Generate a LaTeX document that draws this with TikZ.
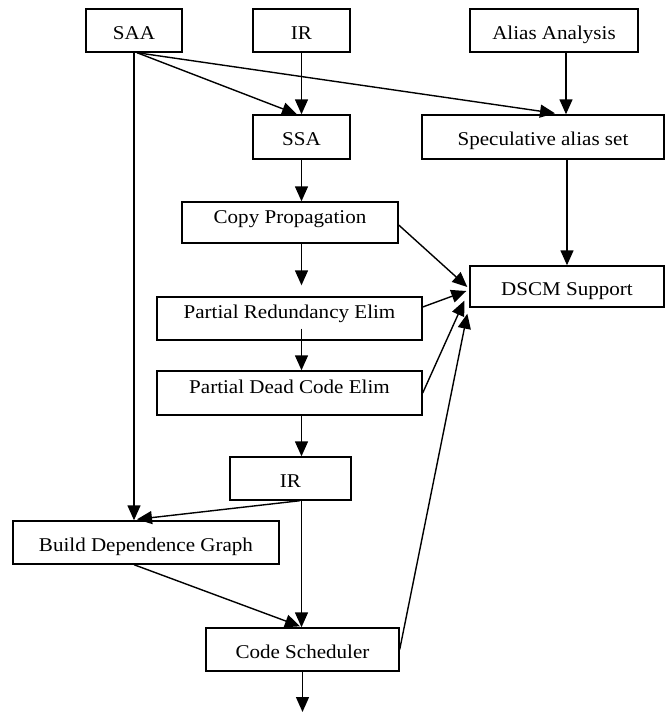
\documentclass[tikz,border=0pt]{standalone}
\usepackage{fontspec}
\setmainfont{Liberation Serif}[FakeStretch=1.08]
\usetikzlibrary{arrows.meta,calc}
\tikzset{
  box/.style={draw, line width=1.4pt, inner sep=0pt, font=\fontsize{19.5}{22}\selectfont,
    text height=17pt, text depth=0pt},
  hi/.style={text height=13pt, text depth=11pt},
  mid/.style={text height=12pt, text depth=12pt},
  conn/.style={line width=1.4pt, -{Triangle[length=15pt,width=13pt]}},
}
\begin{document}
\begin{tikzpicture}[x=1pt,y=-1pt]
\useasboundingbox (0,0) rectangle (671,713);
\node[box, minimum width=96pt, minimum height=43pt] (saa) at (134,30.5) {SAA};
\node[box, minimum width=97pt, minimum height=43pt] (ir1) at (301.5,30.5) {IR};
\node[box, minimum width=168pt, minimum height=43pt] (alias) at (554,30.5) {Alias Analysis};
\node[box, minimum width=97pt, minimum height=44pt] (ssa) at (301.5,137) {SSA};
\node[box, minimum width=242pt, minimum height=44pt] (spec) at (543,137) {Speculative alias set};
\node[box, hi, minimum width=216pt, minimum height=41pt] (copy) at (290,222.5) {Copy Propagation};
\node[box, minimum width=194pt, minimum height=41pt] (dscm) at (567,286.5) {DSCM Support};
\node[box, mid, minimum width=265pt, minimum height=43pt] (pre) at (289.5,318.5) {Partial Redundancy Elim};
\node[box, mid, minimum width=265pt, minimum height=44pt] (pdce) at (289.5,393) {Partial Dead Code Elim};
\node[box, minimum width=121pt, minimum height=43pt] (ir2) at (290.5,478.5) {IR};
\node[box, minimum width=266pt, minimum height=43pt] (bdg) at (146,542.5) {Build Dependence Graph};
\node[box, minimum width=193pt, minimum height=43pt] (cs) at (302.5,649.5) {Code Scheduler};
\coordinate (out) at (302.5,712);

% top level
\draw[conn] ([xshift=3pt]saa.south) -- ([xshift=-4.5pt]ssa.north);
\draw[conn] ([xshift=3pt]saa.south) -- ([xshift=12pt,yshift=1pt]spec.north);
\draw[conn] (saa.south) -- (saa.south |- bdg.north);
\draw[conn] (ir1.south) -- (ssa.north);
\draw[conn] ([xshift=12pt]alias.south) -- ([xshift=12pt]alias.south |- spec.north);
% middle column
\draw[conn] (ssa.south) -- (ssa.south |- copy.north);
\draw[conn] (dscm.north |- spec.south) -- (dscm.north);
\draw[conn] (ssa.south |- copy.south) -- ($(ssa.south |- pre.north)+(0,-11)$);
\draw[conn] ($(ssa.south |- pre.south)+(0,-12)$) -- (ssa.south |- pdce.north);
\draw[conn] (ssa.south |- pdce.south) -- (ssa.south |- ir2.north);
\draw[conn] ([xshift=9.5pt]ir2.south) -- ([xshift=-9pt,yshift=1pt]bdg.north);
\draw[conn] (ssa.south |- ir2.south) -- (ssa.south |- cs.north);
\draw[conn] ([xshift=-12pt]bdg.south) -- ([xshift=-2.5pt,yshift=1pt]cs.north);
\draw[conn] (cs.south) -- (cs.south |- out);
% into DSCM
\draw[conn] ([yshift=-2.5pt]copy.east) -- ([xshift=-2pt,yshift=-0.5pt]dscm.west);
\draw[conn] ([yshift=11.5pt]pre.east) -- ([xshift=-3pt,yshift=-4.5pt]dscm.west);
\draw[conn] (pdce.east) -- ([xshift=-5pt,yshift=7pt]dscm.south west);
\draw[conn] (cs.east) -- ([xshift=-2pt,yshift=-6pt]dscm.south west);
\end{tikzpicture}
\end{document}
